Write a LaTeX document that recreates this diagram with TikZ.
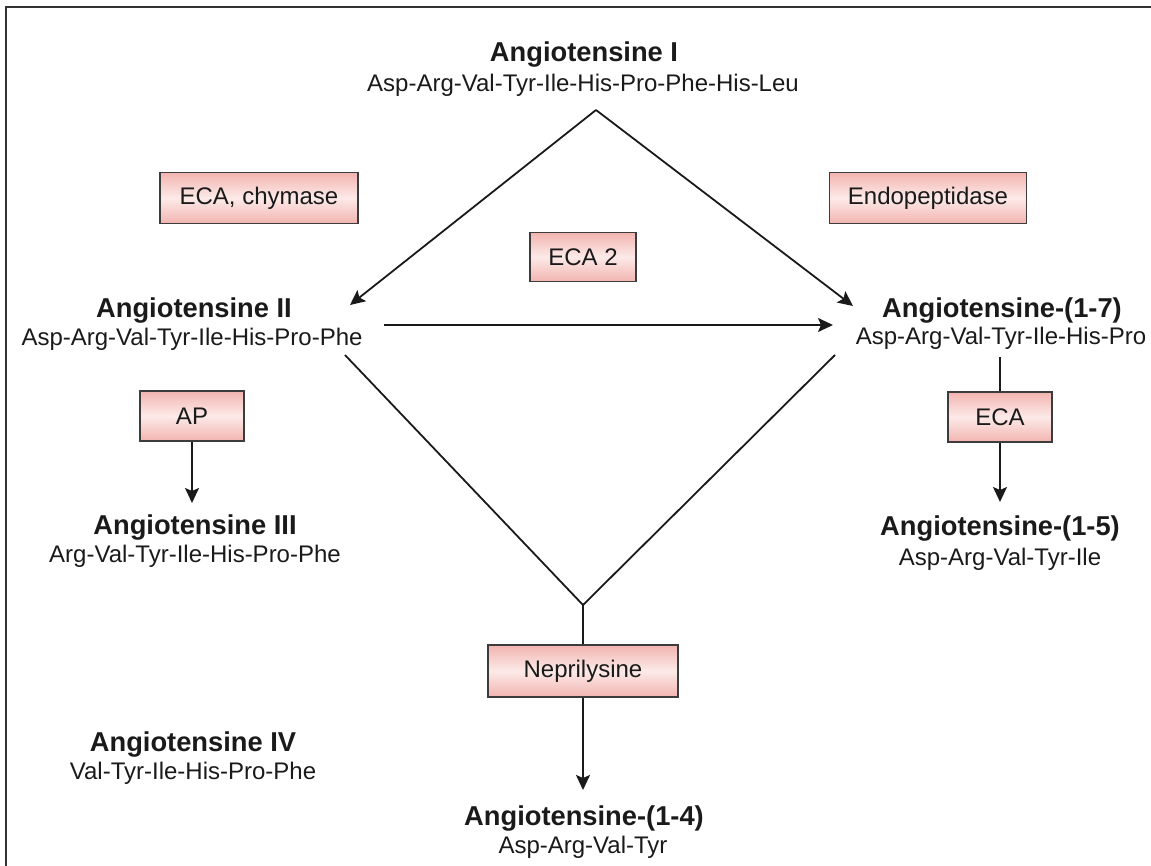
\documentclass[tikz,border=0pt]{standalone}
\usepackage{fontspec}
\setmainfont{Liberation Sans}
\usetikzlibrary{arrows.meta}
\definecolor{boxpink}{HTML}{F2B4B0}
\definecolor{boxlight}{HTML}{FCEAE8}
\definecolor{framegray}{HTML}{333333}
\definecolor{ink}{HTML}{1A1A1A}
\tikzset{
  enz/.style={draw=ink!85, line width=1.2pt, top color=boxpink, bottom color=boxpink,
    middle color=boxlight, minimum height=51pt, inner sep=0pt, text=ink,
    font=\fontsize{24}{28}\selectfont},
  ttl/.style={anchor=base, inner sep=0pt, text=ink, font=\fontsize{27.3}{32}\selectfont\bfseries},
  seq/.style={anchor=base, inner sep=0pt, text=ink, font=\fontsize{24}{28}\selectfont},
  conn/.style={line width=1.8pt, draw=ink},
  arr/.style={conn, -{Stealth[length=15pt,width=14pt,inset=3pt]}},
}
\begin{document}
\begin{tikzpicture}[x=1pt,y=-1pt]
\useasboundingbox (0,0) rectangle (1151,866);
% frame
\draw[framegray, line width=2.2pt] (6,870) -- (6,7) -- (1155,7);

% molecules
\node[ttl] (t1) at (584,62) {Angiotensine I};
\node[seq] (s1) at (583,92) {Asp-Arg-Val-Tyr-Ile-His-Pro-Phe-His-Leu};
\node[ttl] (t2) at (194,318) {Angiotensine II};
\node[seq] (s2) at (192,346) {Asp-Arg-Val-Tyr-Ile-His-Pro-Phe};
\node[ttl] (t17) at (1002,318) {Angiotensine-(1-7)};
\node[seq] (s17) at (1001,345) {Asp-Arg-Val-Tyr-Ile-His-Pro};
\node[ttl] (t3) at (195,534) {Angiotensine III};
\node[seq] (s3) at (195,562) {Arg-Val-Tyr-Ile-His-Pro-Phe};
\node[ttl] (t15) at (1000,535) {Angiotensine-(1-5)};
\node[seq] (s15) at (1000,565) {Asp-Arg-Val-Tyr-Ile};
\node[ttl] (t4) at (193,751) {Angiotensine IV};
\node[seq] (s4) at (193,779) {Val-Tyr-Ile-His-Pro-Phe};
\node[ttl] (t14) at (584,825) {Angiotensine-(1-4)};
\node[seq] (s14) at (583,853) {Asp-Arg-Val-Tyr};

% enzymes
\node[enz, minimum width=198pt] (chy) at (259,198) {ECA, chymase};
\node[enz, minimum width=197pt] (endo) at (928,198) {Endopeptidase};
\node[enz, minimum width=106pt, minimum height=49pt] (eca2) at (583,257) {ECA 2};
\node[enz, minimum width=104pt, minimum height=50pt] (ap) at (192,416) {AP};
\node[enz, minimum width=104pt, minimum height=50pt] (eca) at (1000,417) {ECA};
\node[enz, minimum width=190pt, minimum height=52pt] (nep) at (583,671) {Neprilysine};

% junction coordinates
\coordinate (top) at (596,110);
\coordinate (a2in) at (350,305);
\coordinate (a17in) at (853,306);
\coordinate (h1) at (384,325);
\coordinate (h2) at (833,325);
\coordinate (l2) at (345,355);
\coordinate (l17) at (835,355);
\coordinate (bot) at (583,605);
\coordinate (e17) at (1000,357);

% connectors
\draw[arr] (top) -- (a2in);
\draw[arr] (top) -- (a17in);
\draw[arr] (h1) -- (h2);
\draw[conn] (l2) -- (bot) -- (l17);
\draw[conn] (bot) -- (nep.north);
\draw[arr] (nep.south) -- (583,790);
\draw[conn] (e17) -- (eca.north);
\draw[arr] (eca.south) -- (1000,502);
\draw[arr] (ap.south) -- (192,503);
\end{tikzpicture}
\end{document}
